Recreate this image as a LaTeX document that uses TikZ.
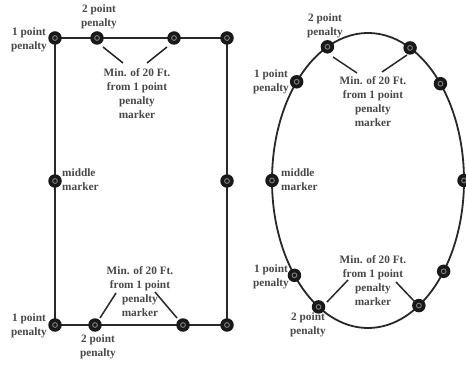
\documentclass[tikz,border=0pt]{standalone}
\usepackage{fontspec}
\setmainfont{Liberation Serif}
\definecolor{txtgray}{RGB}{72,72,72}
\definecolor{linegray}{RGB}{40,40,40}
\begin{document}
\begin{tikzpicture}[x=1pt,y=-1pt,
  lbl/.style={font=\bfseries\fontsize{11.3}{14}\selectfont, text=txtgray, align=center, inner sep=0pt},
  marker/.style={circle, fill=black!90, minimum size=13.5pt, inner sep=0pt,
    path picture={\draw[black!50, line width=0.9pt] (path picture bounding box.center) circle (2.4pt);}},
  edge/.style={draw=linegray, line width=1.8pt},
  leader/.style={draw=linegray, line width=1.5pt}]
\useasboundingbox (0,0) rectangle (466,366);
\fill[white] (0,0) rectangle (466,366);

% ---------- rectangle track ----------
\draw[edge] (55,38) rectangle (227,325);
\node[marker] (r1) at (55,38) {};
\node[marker] (r2) at (97,38) {};
\node[marker] (r3) at (174,38) {};
\node[marker] (r4) at (227,38) {};
\node[marker] (r5) at (55,181) {};
\node[marker] (r6) at (227,181) {};
\node[marker] (r7) at (55,325) {};
\node[marker] (r8) at (95,325) {};
\node[marker] (r9) at (183,325) {};
\node[marker] (r10) at (227,325) {};

\node[lbl] (rt1) at (29,40) {1 point\\penalty};
\node[lbl] (rt2) at (99,17) {2 point\\penalty};
\node[lbl] (rtm) at (137,94) {Min. of 20 Ft.\\from 1 point\\penalty\\marker};
\node[lbl, align=left, anchor=west] (rmid) at (62,180) {middle\\marker};
\node[lbl] (rb1) at (29,326) {1 point\\penalty};
\node[lbl] (rb2) at (98,347) {2 point\\penalty};
\node[lbl] (rbm) at (140,292) {Min. of 20 Ft.\\from 1 point\\penalty\\marker};

\coordinate (la1) at (103,47); \coordinate (la2) at (123,63);
\coordinate (lb1) at (167,47); \coordinate (lb2) at (147,63);
\coordinate (lc1) at (116,293); \coordinate (lc2) at (100,318);
\coordinate (ld1) at (155,292); \coordinate (ld2) at (177,318);
\draw[leader] (la1) -- (la2);
\draw[leader] (lb1) -- (lb2);
\draw[leader] (lc1) -- (lc2);
\draw[leader] (ld1) -- (ld2);

% ---------- oval track ----------
\draw[edge] (368,180.5) ellipse [x radius=96, y radius=147.5];
\begin{scope}[shift={(368,180.5)}]
\node[marker] (e1) at (245:96 and 147.5) {};
\node[marker] (e2) at (296:96 and 147.5) {};
\node[marker] (e3) at (222:96 and 147.5) {};
\node[marker] (e4) at (319:96 and 147.5) {};
\node[marker] (e5) at (180:96 and 147.5) {};
\node[marker] (e6) at (0:96 and 147.5) {};
\node[marker] (e7) at (140:96 and 147.5) {};
\node[marker] (e8) at (121:96 and 147.5) {};
\node[marker] (e9) at (58:96 and 147.5) {};
\node[marker] (e10) at (38:96 and 147.5) {};
\end{scope}

\node[lbl] (et2) at (325,26) {2 point\\penalty};
\node[lbl] (et1) at (271,82) {1 point\\penalty};
\node[lbl] (etm) at (373,102) {Min. of 20 Ft.\\from 1 point\\penalty\\marker};
\node[lbl, align=left, anchor=west] (emid) at (281,180) {middle\\marker};
\node[lbl] (eb1) at (271,277) {1 point\\penalty};
\node[lbl] (eb2) at (308,325) {2 point\\penalty};
\node[lbl] (ebm) at (373,281) {Min. of 20 Ft.\\from 1 point\\penalty\\marker};

\coordinate (le1) at (333,57); \coordinate (le2) at (357,73);
\coordinate (lf1) at (407,55); \coordinate (lf2) at (382,72);
\coordinate (lg1) at (348,280); \coordinate (lg2) at (327,302);
\coordinate (lh1) at (396,282); \coordinate (lh2) at (415,302);
\draw[leader] (le1) -- (le2);
\draw[leader] (lf1) -- (lf2);
\draw[leader] (lg1) -- (lg2);
\draw[leader] (lh1) -- (lh2);
\end{tikzpicture}
\end{document}
